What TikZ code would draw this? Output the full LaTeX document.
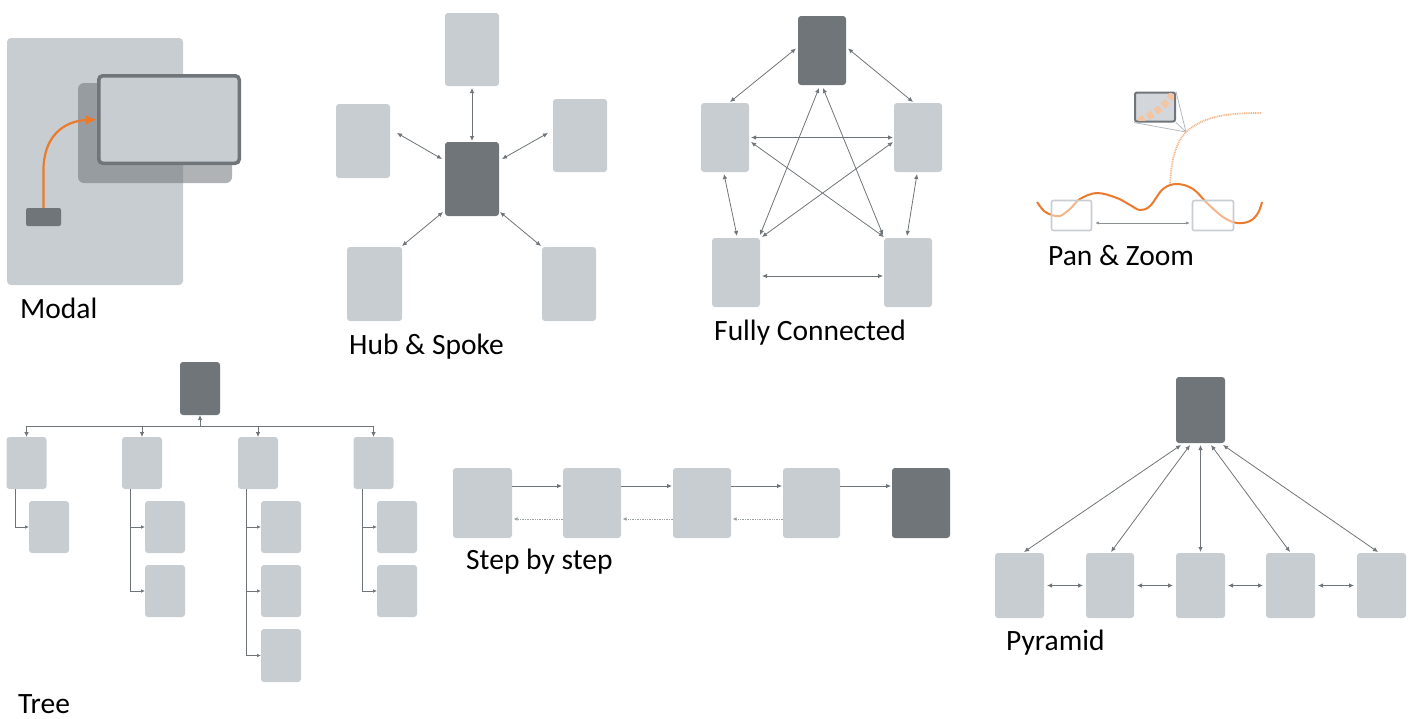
\documentclass[tikz,border=0pt]{standalone}
\usepackage{fontspec}
\setmainfont{Carlito}
\usetikzlibrary{arrows.meta,calc}
\definecolor{boxl}{HTML}{C8CDD2}
\definecolor{boxd}{HTML}{6F7579}
\definecolor{arrc}{HTML}{6E7478}
\definecolor{orng}{HTML}{EC7A2C}
\definecolor{orngl}{HTML}{F5C4A0}
\definecolor{thinc}{HTML}{B5BABE}
\tikzset{
  lbox/.style={fill=boxl, rounded corners=3pt, inner sep=0pt, outer sep=0pt, draw=none},
  dbox/.style={lbox, fill=boxd},
  arr/.style={draw=arrc, line width=0.8pt, -{Latex[length=5pt,width=4.5pt]}},
  darr/.style={draw=arrc, line width=0.8pt, {Latex[length=5pt,width=4.5pt]}-{Latex[length=5pt,width=4.5pt]}},
  sarr/.style={draw=arrc, line width=0.7pt, -{Latex[length=4pt,width=3.5pt]}},
  barr/.style={draw=arrc!70, line width=0.7pt, densely dotted, -{Latex[length=4pt,width=3.5pt]}},
  lbl/.style={anchor=base west, inner sep=0pt, font=\fontsize{29.5}{34}\selectfont},
}
\begin{document}
\begin{tikzpicture}[x=1pt,y=-1pt]
\useasboundingbox (0,0) rectangle (1415,718);
%% ---------------- Modal
\node[lbox, rounded corners=4pt, minimum width=176, minimum height=247] (mbg) at (95,161.5) {};
\node[fill=boxd, fill opacity=0.55, rounded corners=6pt, inner sep=0pt, minimum width=154, minimum height=100] (mshadow) at (155,133) {};
\node[fill=boxl, draw=boxd, line width=3.5pt, rounded corners=4pt, inner sep=0pt, minimum width=140.5, minimum height=87.5] (mwin) at (169,119.5) {};
\node[dbox, rounded corners=2pt, minimum width=35, minimum height=18] (mbtn) at (43.5,217) {};
\draw[draw=orng, line width=2.2pt, -{Latex[length=11pt,width=10pt]}]
  (mbtn.north) -- (43.5,170) .. controls (43.5,138) and (62,121) .. (mwin.west);
\node[lbl] (tmodal) at (20,318) {Modal};
%% ---------------- Hub & Spoke
\node[lbox, minimum width=54, minimum height=73] (hT) at (472,49.5) {};
\node[lbox, minimum width=54, minimum height=74] (hL) at (363,141) {};
\node[lbox, minimum width=54, minimum height=73] (hR) at (580,135.5) {};
\node[dbox, minimum width=54, minimum height=74] (hub) at (472,179) {};
\node[lbox, minimum width=55, minimum height=74] (hBL) at (374.5,284) {};
\node[lbox, minimum width=54, minimum height=74] (hBR) at (569,284) {};
\draw[darr] ($(hT.south)+(0,2)$) -- ($(hub.north)+(0,-1)$);
\draw[darr] ($(hub.north west)+(-3,17)$) -- ($(hL.north east)+(7,29)$);
\draw[darr] ($(hub.north east)+(3,17)$) -- ($(hR.north west)+(-5,34)$);
\draw[darr] ($(hub.south west)+(-2,-4)$) -- ($(hBL.north east)+(0,-1)$);
\draw[darr] ($(hub.south east)+(1,-4)$) -- ($(hBR.north west)+(-1,-1)$);
\node[lbl] (thub) at (349,354) {Hub \& Spoke};
%% ---------------- Fully connected
\node[dbox, minimum width=48, minimum height=69] (fT) at (822,50.5) {};
\node[lbox, minimum width=48, minimum height=69] (fL) at (725,137.5) {};
\node[lbox, minimum width=48, minimum height=69] (fR) at (918,137.5) {};
\node[lbox, minimum width=48, minimum height=69] (fBL) at (736,272.5) {};
\node[lbox, minimum width=48, minimum height=69] (fBR) at (908,272.5) {};
\draw[darr] ($(fT.west)+(-2,-2)$) -- ($(fL.north)+(5,-1)$);
\draw[darr] ($(fT.east)+(2,-2)$) -- ($(fR.north)+(-5,-1)$);
\draw[darr] ($(fL.east)+(2,0)$) -- ($(fR.west)+(-1,0)$);
\draw[darr] ($(fL.east)+(2,4.5)$) -- ($(fBR.north west)+(0,-1)$);
\draw[darr] ($(fR.west)+(-1,4.5)$) -- ($(fBL.north east)+(2,-1)$);
\draw[darr] ($(fT.south)+(-3,3)$) -- ($(fBL.north east)+(0,-3)$);
\draw[darr] ($(fT.south)+(1,3)$) -- ($(fBR.north west)+(-1,-3)$);
\draw[darr] ($(fL.south)+(-1,2)$) -- ($(fBL.north)+(1,-2)$);
\draw[darr] ($(fR.south)+(-1,2)$) -- ($(fBR.north)+(-1,-2)$);
\draw[darr] ($(fBL.east)+(2,3.5)$) -- ($(fBR.west)+(-1,3.5)$);
\node[lbl] (tfull) at (714,340) {Fully Connected};
%% ---------------- Pan & Zoom
\node[fill=boxl!80!white, draw=boxd, line width=2pt, rounded corners=2pt, inner sep=0pt, minimum width=40, minimum height=29] (pzM) at (1155,107) {};
\begin{scope}
  \clip ($(pzM.south west)+(2,-2)$) rectangle ($(pzM.north east)+(-2,2)$);
  \draw[orngl, line width=7pt, dash pattern=on 6pt off 3.5pt] (1139,121) .. controls (1153,115) and (1166,106) .. (1174,92);
\end{scope}
\coordinate (pzP) at (1186,132);
\draw[thinc, line width=0.8pt] (pzM.north east) -- (pzP);
\draw[thinc, line width=0.8pt] (pzM.south east) -- (pzP);
\draw[thinc, line width=0.8pt] (pzM.south west) -- (pzP);
\coordinate (pzS) at (1170,185);
\coordinate (pzE) at (1262,113);
\draw[orngl!80!orng, line width=1.8pt, dash pattern=on 1pt off 0.8pt]
  (pzS) .. controls (1171,160) and (1176,142) .. (pzP) .. controls (1205,115) and (1230,113) .. (pzE);
\draw[orng, line width=2pt] plot[smooth, tension=0.6] coordinates {
  (1037,202) (1044,211) (1052,215) (1060,216) (1070,209) (1080,199) (1097,193) (1117,198)
  (1130,205) (1140,210) (1150,206) (1163,189) (1177,184) (1193,189) (1207,203)
  (1223,217) (1237,223) (1250,221) (1258,213) (1262,202)};
\node[fill=white, fill opacity=0.45, draw=boxl, draw opacity=1, line width=1.6pt, rounded corners=2pt, inner sep=0pt, minimum width=40, minimum height=30] (pzA) at (1071.5,215.5) {};
\node[fill=white, fill opacity=0.45, draw=boxl, draw opacity=1, line width=1.6pt, rounded corners=2pt, inner sep=0pt, minimum width=41, minimum height=30] (pzB) at (1213,215.5) {};
\draw[draw=arrc!80, line width=0.6pt, {Latex[length=3.5pt,width=3pt]}-{Latex[length=3.5pt,width=3pt]}] ($(pzA.east)+(3,7.5)$) -- ($(pzB.west)+(-2,7.5)$);
\node[lbl] (tpan) at (1048,265) {Pan \& Zoom};
%% ---------------- Tree
\node[dbox, minimum width=40, minimum height=53] (tR) at (200,388.5) {};
\foreach \n/\x in {t1/26.5, t2/142, t3/258, t4/373.5}
  \node[lbox, minimum width=40, minimum height=52] (\n) at (\x,463) {};
\node[lbox, minimum width=40, minimum height=52] (t1a) at (49,527) {};
\node[lbox, minimum width=40, minimum height=52] (t2a) at (165,527) {};
\node[lbox, minimum width=40, minimum height=52] (t2b) at (165,591) {};
\node[lbox, minimum width=40, minimum height=52] (t3a) at (281,527) {};
\node[lbox, minimum width=40, minimum height=52] (t3b) at (281,591) {};
\node[lbox, minimum width=40, minimum height=53] (t3c) at (281,655.5) {};
\node[lbox, minimum width=40, minimum height=52] (t4a) at (397,527) {};
\node[lbox, minimum width=40, minimum height=52] (t4b) at (397,591) {};
\coordinate (bus) at (200,426);
\draw[draw=arrc, line width=0.8pt] (t1.north |- bus) -- (t4.north |- bus);
\draw[arr] (tR.south |- bus) -- (tR.south);
\foreach \n in {t1,t2,t3,t4}
  \draw[arr] (\n.north |- bus) -- (\n.north);
\draw[sarr] ($(t1.south west)+(8.5,0)$) |- (t1a.west);
\draw[sarr] ($(t2.south west)+(8.5,0)$) |- (t2a.west);
\draw[sarr] ($(t2.south west)+(8.5,0)$) |- (t2b.west);
\draw[sarr] ($(t3.south west)+(8.5,0)$) |- (t3a.west);
\draw[sarr] ($(t3.south west)+(8.5,0)$) |- (t3b.west);
\draw[sarr] ($(t3.south west)+(8.5,0)$) |- (t3c.west);
\draw[sarr] ($(t4.south west)+(8.5,0)$) |- (t4a.west);
\draw[sarr] ($(t4.south west)+(8.5,0)$) |- (t4b.west);
\node[lbl] (ttree) at (18,713) {Tree};
%% ---------------- Step by step
\node[lbox, minimum width=59, minimum height=70] (s1) at (482.5,503) {};
\node[lbox, minimum width=58, minimum height=70] (s2) at (592,503) {};
\node[lbox, minimum width=58, minimum height=70] (s3) at (702,503) {};
\node[lbox, minimum width=57, minimum height=70] (s4) at (811.5,503) {};
\node[dbox, minimum width=58, minimum height=70] (s5) at (921,503) {};
\draw[arr] ($(s1.east)+(0,-17)$) -- ($(s2.west)+(-1,-17)$);
\draw[arr] ($(s2.east)+(0,-17)$) -- ($(s3.west)+(-1,-17)$);
\draw[arr] ($(s3.east)+(0,-17)$) -- ($(s4.west)+(-1,-17)$);
\draw[arr] ($(s4.east)+(0,-17)$) -- ($(s5.west)+(-1,-17)$);
\draw[barr] ($(s2.west)+(0,16)$) -- ($(s1.east)+(1.5,16)$);
\draw[barr] ($(s3.west)+(0,16)$) -- ($(s2.east)+(1.5,16)$);
\draw[barr] ($(s4.west)+(0,16)$) -- ($(s3.east)+(1.5,16)$);
\node[lbl] (tstep) at (466,569) {Step by step};
%% ---------------- Pyramid
\node[dbox, minimum width=49, minimum height=66] (pT) at (1200.5,410) {};
\node[lbox, minimum width=49, minimum height=65] (p1) at (1019.5,585.5) {};
\node[lbox, minimum width=48, minimum height=65] (p2) at (1110,585.5) {};
\node[lbox, minimum width=49, minimum height=65] (p3) at (1200.5,585.5) {};
\node[lbox, minimum width=49, minimum height=65] (p4) at (1290.5,585.5) {};
\node[lbox, minimum width=49, minimum height=65] (p5) at (1381.5,585.5) {};
\draw[darr] ($(pT.south)+(-19.5,2)$) -- ($(p1.north)+(4.5,-1)$);
\draw[darr] ($(pT.south)+(-10.5,2)$) -- ($(p2.north)+(1,-1)$);
\draw[darr] ($(pT.south)+(0,2)$) -- ($(p3.north)+(0,-1)$);
\draw[darr] ($(pT.south)+(10.5,2)$) -- ($(p4.north)+(-0.5,-1)$);
\draw[darr] ($(pT.south)+(22.5,2)$) -- ($(p5.north)+(-3.5,-1)$);
\draw[darr] ($(p1.east)+(3,0)$) -- ($(p2.west)+(-3,0)$);
\draw[darr] ($(p2.east)+(3,0)$) -- ($(p3.west)+(-3,0)$);
\draw[darr] ($(p3.east)+(3,0)$) -- ($(p4.west)+(-3,0)$);
\draw[darr] ($(p4.east)+(3,0)$) -- ($(p5.west)+(-3,0)$);
\node[lbl] (tpyr) at (1006,650) {Pyramid};
\end{tikzpicture}
\end{document}
